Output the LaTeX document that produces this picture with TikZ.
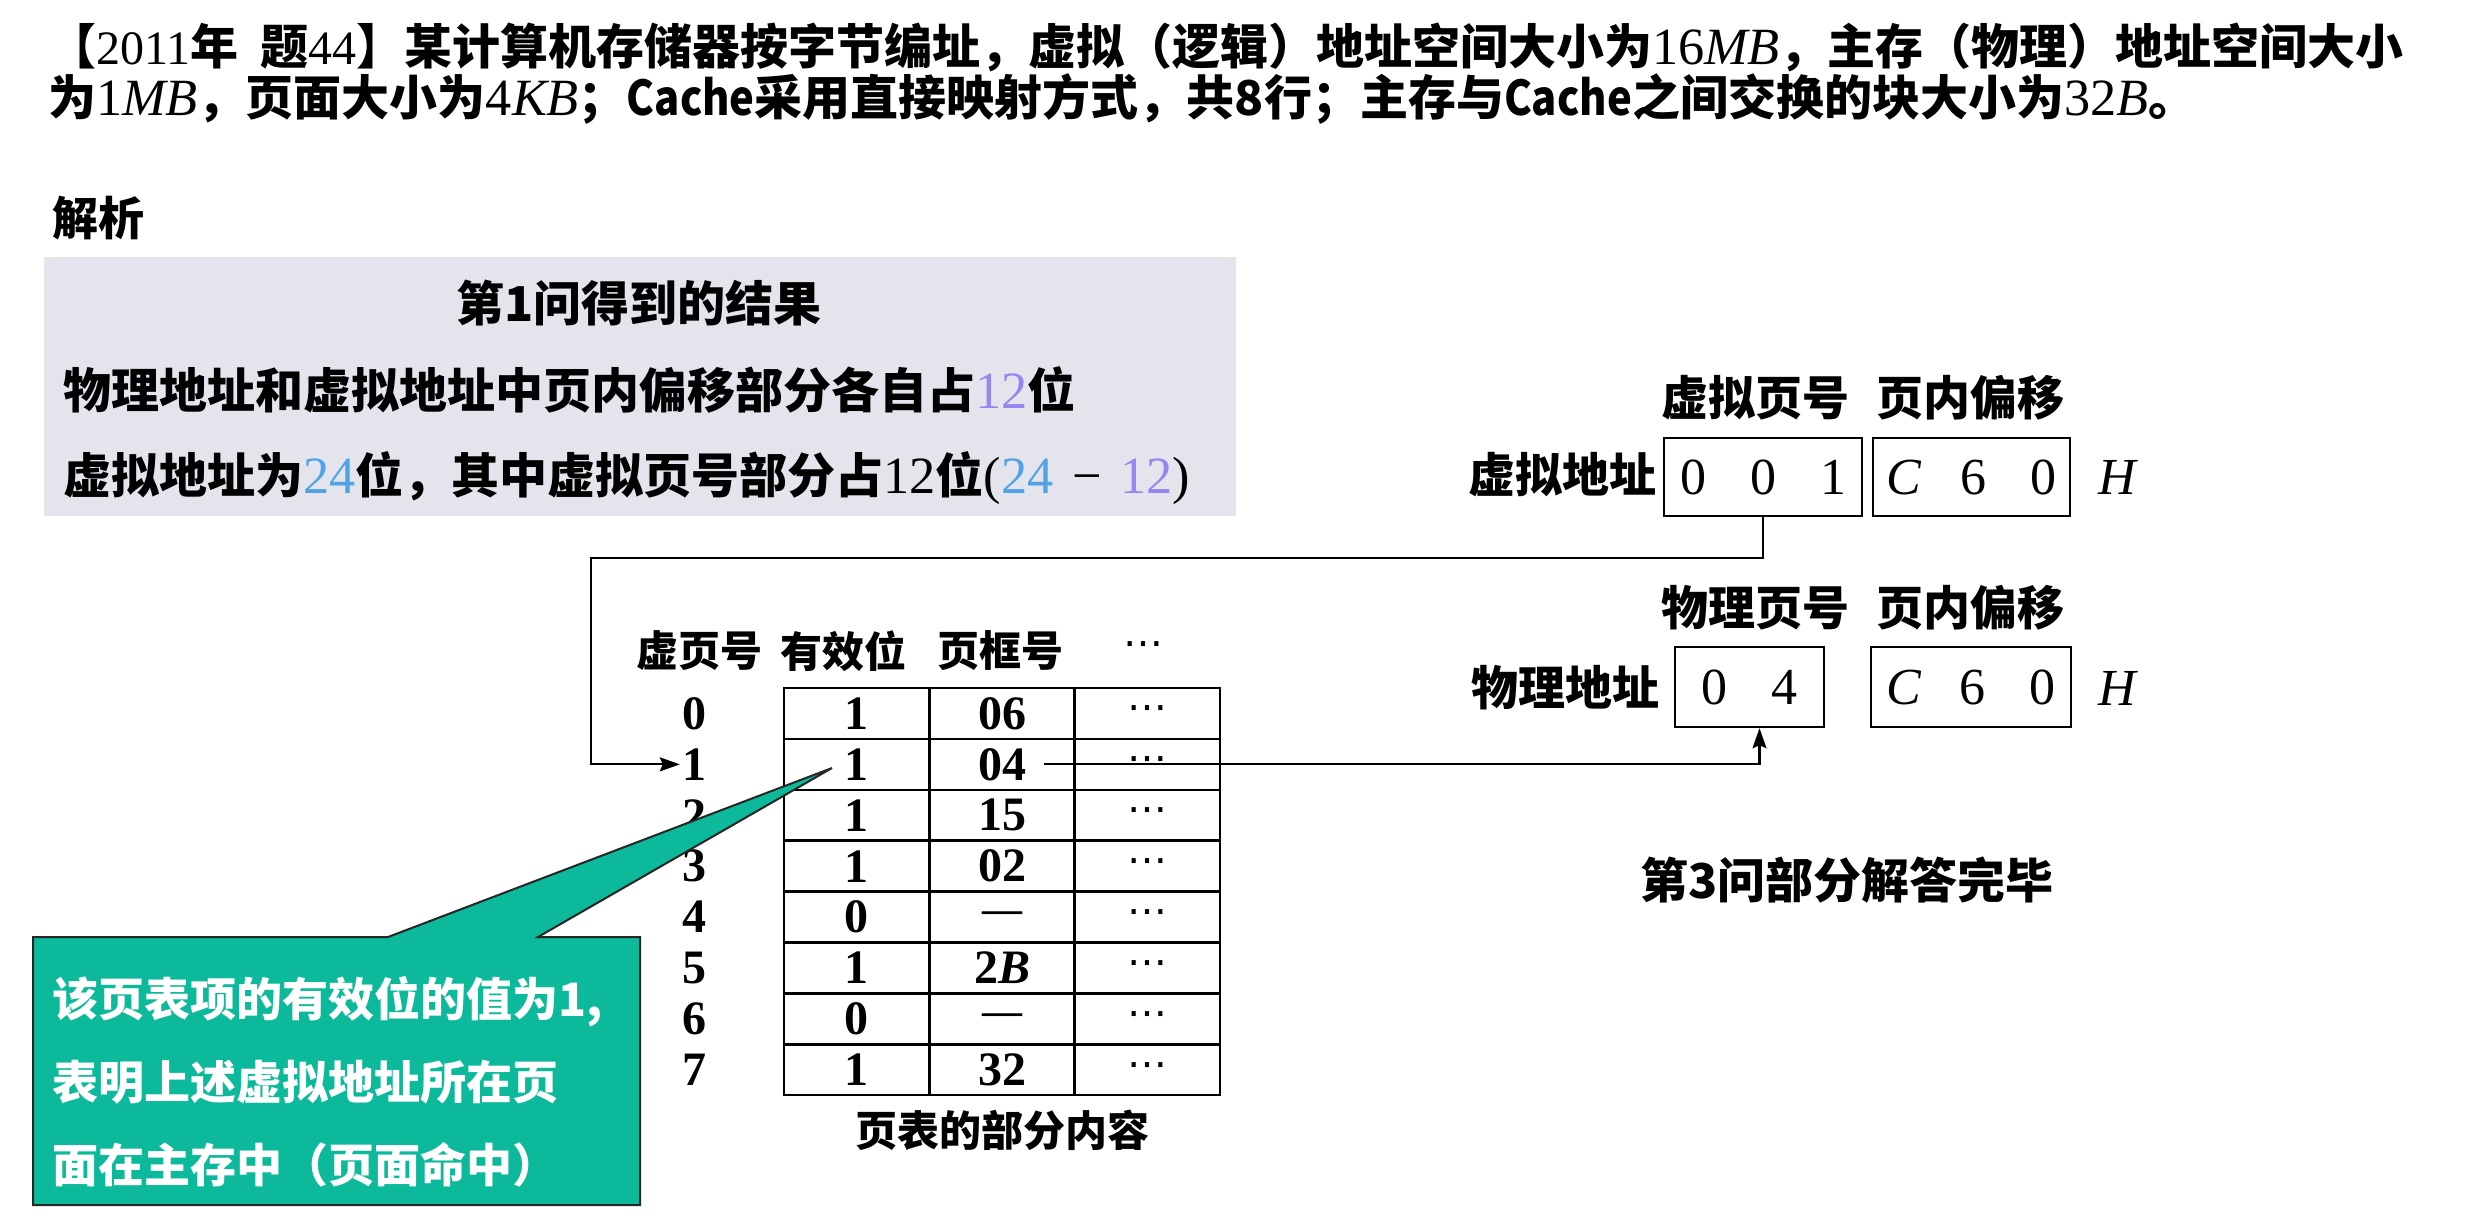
\documentclass[tikz,border=0pt]{standalone}
\usepackage{fontspec}
\setmainfont{Liberation Serif}
\newfontfamily\cjk{Noto Sans CJK SC}
\newfontfamily\dejavu{DejaVu Sans}
\usetikzlibrary{arrows.meta}
\definecolor{boxgray}{RGB}{228,229,236}
\definecolor{tealc}{RGB}{12,185,154}
\definecolor{lblue}{RGB}{79,163,230}
\definecolor{lpurple}{RGB}{150,135,240}
\newcommand\sr[1]{{\rmfamily\mdseries #1}}
\newcommand\mt[1]{{\rmfamily\mdseries\scalebox{1.09}{#1}}}
\newcommand\cache{\scalebox{0.87}[1]{Cache}}
\newcommand\emd{{\fontsize{40}{40}\selectfont —}}
\newcommand\dotsc{{\dejavu\mdseries\fontsize{40}{40}\selectfont ⋯}}
\begin{document}
\begin{tikzpicture}[x=1pt,y=-1pt,
  every node/.style={inner sep=0pt},
  zh/.style={font=\cjk\bfseries\fontsize{#1}{#1}\selectfont},
  cell/.style={draw, line width=2.5pt, minimum width=145.3pt, minimum height=50.9pt,
    font=\rmfamily\bfseries\fontsize{48}{48}\selectfont},
  rowlab/.style={font=\rmfamily\bfseries\fontsize{48}{48}\selectfont},
  addrbox/.style={draw, line width=2.5pt,
    font=\rmfamily\fontsize{52}{52}\selectfont},
  conn/.style={line width=2.2pt, line join=miter},
  tipc/.style={-{Stealth[length=20pt,width=14pt,inset=3pt]}}
]
\useasboundingbox (0,0) rectangle (2475,1218);

% title
\node[zh=48, anchor=west] (t1) at (48,47) {【\sr{2011}年\hspace{0.45em}题\sr{44}】某计算机存储器按字节编址，虚拟（逻辑）地址空间大小为\mt{16\textit{MB}}，主存（物理）地址空间大小};
\node[zh=48, anchor=west] (t2) at (48,99) {为\mt{1\textit{MB}}，页面大小为\mt{4\textit{KB}}；\cache 采用直接映射方式，共8行；主存与\cache 之间交换的块大小为\mt{32\textit{B}}。};
\node[zh=46, anchor=west] (jx) at (52,218) {解析};

% gray box
\fill[boxgray] (44,257) rectangle (1236,516);
\node[zh=48] (b1) at (639,303) {第1问得到的结果};
\node[zh=48, anchor=west] (b2) at (63,390) {物理地址和虚拟地址中页内偏移部分各自占\mt{\color{lpurple}12}位};
\node[zh=48, anchor=west] (b3) at (63,478) {虚拟地址为\mt{\color{lblue}24}位，其中虚拟页号部分占\mt{12}位\mt{(\textcolor{lblue}{24}\hspace{17pt}−\hspace{17pt}\textcolor{lpurple}{12})}};

% page table headers
\node[zh=42] (h1) at (699,651) {虚页号};
\node[zh=42] (h2) at (843,651) {有效位};
\node[zh=42] (h3) at (1000,651) {页框号};
\node (h4) at (1143,649) {\dotsc};

\foreach \r/\v/\f in {0/1/06, 1/1/04, 2/1/15, 3/1/02, 4/0/{\emd}, 5/1/{2\textit{B}}, 6/0/{\emd}, 7/1/32} {
  \pgfmathsetmacro\yy{688+50.9*(\r+0.5)}
  \node[rowlab] (r\r) at (694,\yy) {\r};
  \node[cell] (v\r) at (856.65,\yy) {\v};
  \node[cell] (f\r) at (1002,\yy) {\f};
  \node[cell] (d\r) at (1147.35,\yy) {\dotsc};
}
\node[zh=42] (cap) at (1002,1130) {页表的部分内容};

% virtual address
\node[zh=47] (vh1) at (1755,398) {虚拟页号};
\node[zh=47] (vh2) at (1970,398) {页内偏移};
\node[zh=47, anchor=east] (vl) at (1657,475) {虚拟地址};
\node[addrbox, minimum width=198pt, minimum height=78pt] (va1) at (1763,477) {0\hspace{44pt}0\hspace{44pt}1};
\node[addrbox, minimum width=197pt, minimum height=78pt] (va2) at (1971.5,477) {\textit{C}\hspace{38pt}6\hspace{44pt}0};
\node[font=\rmfamily\itshape\fontsize{52}{52}\selectfont] (vH) at (2117,477) {H};

% physical address
\node[zh=47] (ph1) at (1755,608) {物理页号};
\node[zh=47] (ph2) at (1970,608) {页内偏移};
\node[zh=47, anchor=east] (pl) at (1660,688) {物理地址};
\node[addrbox, minimum width=149pt, minimum height=80pt] (pa1) at (1749.5,687) {0\hspace{44pt}4};
\node[addrbox, minimum width=200pt, minimum height=80pt] (pa2) at (1971,687) {\textit{C}\hspace{38pt}6\hspace{44pt}0};
\node[font=\rmfamily\itshape\fontsize{52}{52}\selectfont] (pH) at (2117,688) {H};

\node[zh=48] (done) at (1847,880) {第3问部分解答完毕};

% callout
\coordinate (tip) at (832,768);
\filldraw[fill=tealc, draw=black!85, line width=2pt] (33,937) -- (388,937) -- (tip) -- (538,937) -- (640,937) -- (640,1205) -- (33,1205) -- cycle;
\node[font=\cjk\bfseries\fontsize{46}{83}\selectfont, text=white, align=left, anchor=west] (note) at (52,1082)
  {该页表项的有效位的值为1,\\表明上述虚拟地址所在页\\面在主存中（页面命中）};

% connectors
\coordinate (turn) at (591,558);
\draw[conn, tipc] (va1.south) |- (turn) |- ([xshift=-2pt]r1.west);
\draw[conn, tipc] ([xshift=42pt]f1.center) -| ([xshift=10pt]pa1.south);
\end{tikzpicture}
\end{document}
